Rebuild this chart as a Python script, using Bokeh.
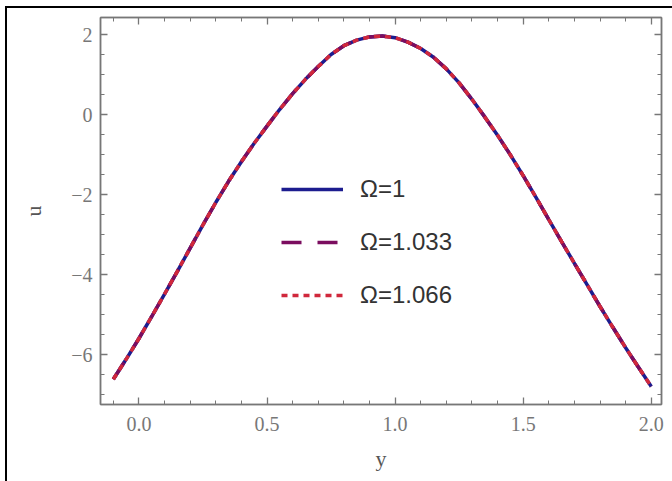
from bokeh.plotting import figure
from bokeh.models import LinearAxis, Legend, LegendItem, FixedTicker
from bokeh.embed import file_html
from bokeh.resources import INLINE

# Data
y_vals = [-0.1, -0.05, 0.0, 0.05, 0.1, 0.15, 0.2, 0.25, 0.3, 0.35, 0.4, 0.45, 0.5,
          0.55, 0.6, 0.65, 0.7, 0.75, 0.8, 0.85, 0.9, 0.95, 1.0, 1.05, 1.1, 1.15,
          1.2, 1.25, 1.3, 1.35, 1.4, 1.45, 1.5, 1.55, 1.6, 1.65, 1.7, 1.75, 1.8,
          1.85, 1.9, 1.95, 2.0]
u_omega_1 = [-6.62, -6.12, -5.60, -5.05, -4.49, -3.92, -3.34, -2.76, -2.20, -1.67, -1.18,
             -0.72, -0.29, 0.13, 0.52, 0.88, 1.20, 1.50, 1.72, 1.86, 1.94, 1.96, 1.92,
             1.81, 1.65, 1.43, 1.14, 0.79, 0.38, -0.06, -0.52, -1.01, -1.53, -2.07,
             -2.63, -3.18, -3.72, -4.26, -4.80, -5.32, -5.83, -6.32, -6.80]
u_omega_1033 = list(u_omega_1)
u_omega_1066 = list(u_omega_1)
labels = ["Ω=1", "Ω=1.033", "Ω=1.066"]
x_ticks = [0.0, 0.5, 1.0, 1.5, 2.0]
x_tick_labels = ["0.0", "0.5", "1.0", "1.5", "2.0"]
y_ticks = [-6, -4, -2, 0, 2]
y_tick_labels = ["\u22126", "\u22124", "\u22122", "0", "2"]

p = figure(frame_width=561, frame_height=387,
           min_border_left=93, min_border_right=11, min_border_top=9, min_border_bottom=77,
           x_range=(-0.15, 2.04), y_range=(-7.25, 2.425),
           output_backend="svg", toolbar_location=None)
p.styles = {"border-left": "2px solid black", "border-top": "2px solid black",
            "margin-left": "5px", "margin-top": "6px"}
p.xgrid.visible = False
p.ygrid.visible = False
p.outline_line_color = "#888888"
p.outline_line_width = 1.5
p.background_fill_color = "white"
p.border_fill_color = "white"

AX = "#777777"
def style_axis(ax, show_labels, ticks):
    ax.axis_line_color = AX
    ax.axis_line_width = 1.5
    ax.major_tick_line_color = AX
    ax.minor_tick_line_color = AX
    ax.major_tick_in = 7
    ax.major_tick_out = 0
    ax.minor_tick_in = 4
    ax.minor_tick_out = 0
    ax.major_tick_line_width = 1.3
    ax.minor_tick_line_width = 1
    if show_labels:
        ax.major_label_text_font = "Liberation Serif"
        ax.major_label_text_font_size = "20px"
        ax.major_label_text_color = "#777777"
    else:
        ax.major_label_overrides = {t: "" for t in ticks}
        ax.major_label_standoff = 0

xt = FixedTicker(ticks=x_ticks, minor_ticks=[round(-0.1 + 0.1 * i, 2) for i in range(22)])
yt = FixedTicker(ticks=y_ticks, minor_ticks=[-7 + 0.5 * i for i in range(20)])

xa = p.xaxis[0]
xa.ticker = xt
xa.major_label_overrides = dict(zip(x_ticks, x_tick_labels))
xa.major_label_standoff = 12
xa.axis_label = "y"
xa.axis_label_text_font = "Liberation Serif"
xa.axis_label_text_font_style = "normal"
xa.axis_label_text_font_size = "22px"
xa.axis_label_text_color = "#555555"
xa.axis_label_standoff = 12
style_axis(xa, True, x_ticks)

ya = p.yaxis[0]
ya.ticker = yt
ya.major_label_overrides = dict(zip(y_ticks, y_tick_labels))
ya.major_label_standoff = 8
ya.axis_label = "u"
ya.axis_label_text_font = "Liberation Serif"
ya.axis_label_text_font_style = "normal"
ya.axis_label_text_font_size = "22px"
ya.axis_label_text_color = "#555555"
ya.axis_label_standoff = 22
style_axis(ya, True, y_ticks)

top = LinearAxis(ticker=xt)
style_axis(top, False, x_ticks)
p.add_layout(top, "above")
right = LinearAxis(ticker=yt)
style_axis(right, False, y_ticks)
p.add_layout(right, "right")

r1 = p.line(y_vals, u_omega_1, line_color="#1c1c8f", line_width=3.5)
r2 = p.line(y_vals, u_omega_1033, line_color="#7b0d5f", line_width=3.5, line_dash="20 16")
r3 = p.line(y_vals, u_omega_1066, line_color="#d0283c", line_width=3.5, line_dash="6 5")

legend = Legend(items=[LegendItem(label=labels[0], renderers=[r1]),
                       LegendItem(label=labels[1], renderers=[r2]),
                       LegendItem(label=labels[2], renderers=[r3])],
                location=(181, 95), padding=0, margin=0, spacing=25,
                glyph_width=62, glyph_height=24, label_height=24, label_standoff=17,
                label_text_font="Liberation Sans", label_text_font_size="24px",
                label_text_color="#333333",
                border_line_alpha=0, background_fill_alpha=0)
p.add_layout(legend, "center")

open("out.html", "w").write(file_html(p, INLINE))
